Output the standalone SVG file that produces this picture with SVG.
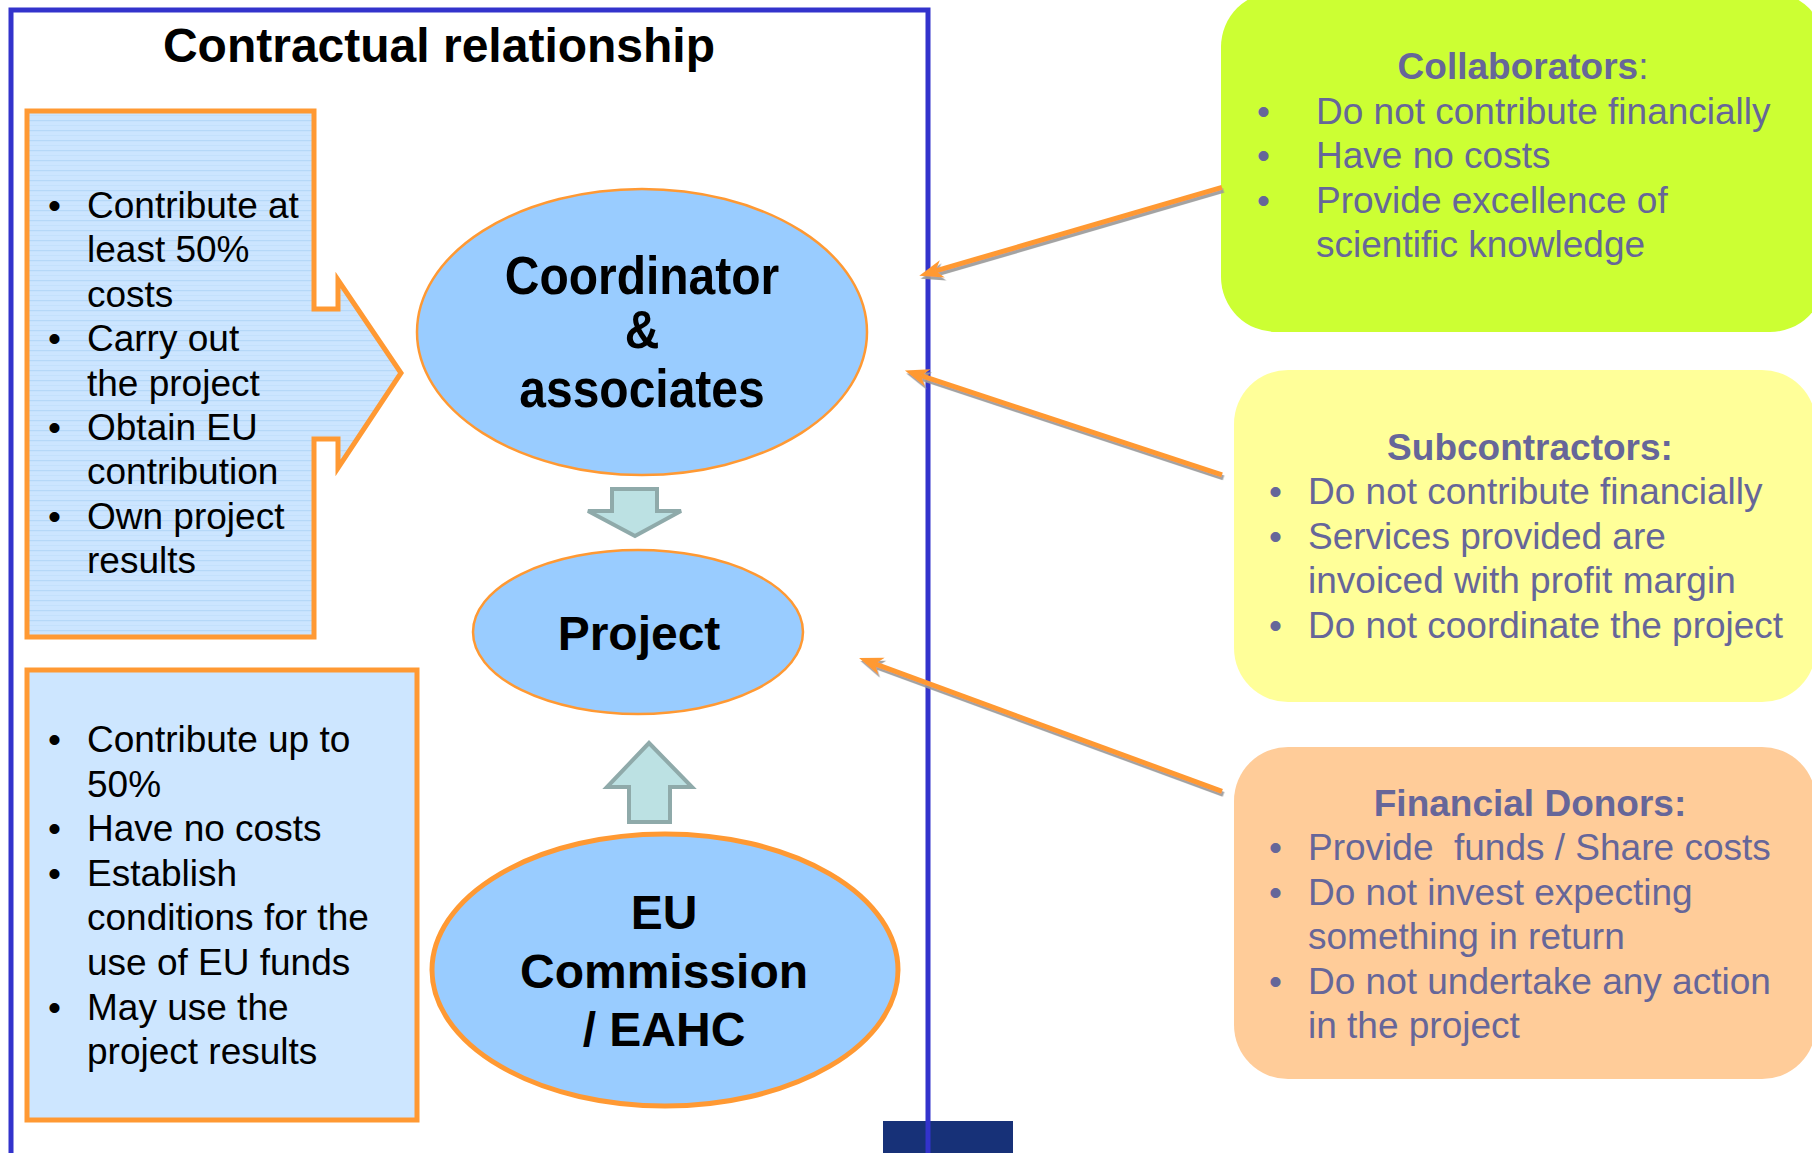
<svg xmlns="http://www.w3.org/2000/svg" width="1812" height="1153" viewBox="0 0 1812 1153">
  <style>
    text { font-family: "Liberation Sans", Arial, "Noto Sans", sans-serif; }
    .title { font-size: 48px; font-weight: bold; fill: #000; text-anchor: middle; }
    .lb { font-size: 37px; fill: #000; }
    .node { font-size: 48px; font-weight: bold; fill: #000; text-anchor: middle; }
    .rt { font-size: 37px; fill: #666699; }
    .rh { font-size: 37px; font-weight: bold; fill: #666699; text-anchor: middle; }
    .ell { fill: #99CCFF; stroke: #FF9933; }
    .box { stroke: #FF9933; stroke-width: 5; stroke-linejoin: miter; }
    .flow { fill: #BCE1E3; stroke: #8FAAAA; stroke-width: 4; }
    .conn { fill: none; stroke: #FF9933; stroke-width: 5; }
  </style>
  <defs>
    <pattern id="stripes" width="10" height="10" patternUnits="userSpaceOnUse">
      <rect width="10" height="10" fill="#CCE5FF"/>
      <rect y="0" width="10" height="1.2" fill="#B6D8F8"/>
      <rect y="5" width="10" height="1" fill="#C3E0FC"/>
    </pattern>
    <marker id="head" viewBox="-24 -10 26 20" refX="-17" refY="0" markerWidth="26" markerHeight="20" markerUnits="userSpaceOnUse" orient="auto">
      <path d="M0,0 L-24,-9 L-17,0 L-24,9 Z" fill="#FF9933"/>
    </marker>
    <filter id="shadow" x="-10%" y="-10%" width="120%" height="130%">
      <feDropShadow dx="1.5" dy="3" stdDeviation="0.6" flood-color="#999999" flood-opacity="0.9"/>
    </filter>
  </defs>

  <rect width="1812" height="1153" fill="#FFFFFF"/>

  <!-- footer tab -->
  <rect x="883" y="1121" width="130" height="40" fill="#173178"/>

  <!-- contract frame -->
  <path d="M11,1160 V10 H928 V1160" fill="none" stroke="#3333CC" stroke-width="5"/>
  <text class="title" x="439" y="62">Contractual relationship</text>

  <!-- partner duties -->
  <g id="partners-box">
    <path class="box" fill="url(#stripes)" d="M27,111 H314 V309 H338 V280 L401,373 L338,468 V439 H314 V637 H27 Z"/>
    <g class="lb">
      <text x="48" y="218">•</text><text x="87" y="218">Contribute at</text>
      <text x="87" y="262.4">least 50%</text>
      <text x="87" y="306.8">costs</text>
      <text x="48" y="351.2">•</text><text x="87" y="351.2">Carry out</text>
      <text x="87" y="395.6">the project</text>
      <text x="48" y="440">•</text><text x="87" y="440">Obtain EU</text>
      <text x="87" y="484.4">contribution</text>
      <text x="48" y="528.8">•</text><text x="87" y="528.8">Own project</text>
      <text x="87" y="573.2">results</text>
    </g>
  </g>

  <!-- commission duties -->
  <g id="commission-box">
    <rect class="box" x="27" y="670" width="390" height="450" fill="#CDE6FF"/>
    <g class="lb">
      <text x="48" y="752">•</text><text x="87" y="752">Contribute up to</text>
      <text x="87" y="796.6">50%</text>
      <text x="48" y="841.2">•</text><text x="87" y="841.2">Have no costs</text>
      <text x="48" y="885.8">•</text><text x="87" y="885.8">Establish</text>
      <text x="87" y="930.4">conditions for the</text>
      <text x="87" y="975">use of EU funds</text>
      <text x="48" y="1019.6">•</text><text x="87" y="1019.6">May use the</text>
      <text x="87" y="1064.2">project results</text>
    </g>
  </g>

  <g id="coordinator">
    <ellipse class="ell" cx="642" cy="332" rx="225" ry="143" stroke-width="2.5"/>
    <text class="node" transform="translate(642,294) scale(1,1.1)">Coordinator</text>
    <text class="node" transform="translate(642,348) scale(1,1.1)">&amp;</text>
    <text class="node" transform="translate(642,407) scale(1,1.1)">associates</text>
  </g>

  <g id="project">
    <ellipse class="ell" cx="638" cy="632" rx="165" ry="82" stroke-width="2.5"/>
    <text class="node" x="639" y="650">Project</text>
  </g>

  <g id="commission">
    <ellipse class="ell" cx="665" cy="970" rx="233" ry="136" stroke-width="5"/>
    <text class="node" x="664" y="929">EU</text>
    <text class="node" x="664" y="988">Commission</text>
    <text class="node" x="664" y="1046">/ EAHC</text>
  </g>

  <g id="flow-arrows">
    <polygon class="flow" points="612,489 657,489 657,511 681,511 635,536 588,511 612,511"/>
    <polygon class="flow" points="649,743 692,787 670,787 670,822 629,822 629,787 607,787"/>
  </g>

  <g id="collaborators">
    <rect x="1221" y="-8" width="604" height="340" rx="55" fill="#CCFF33"/>
    <text class="rh" x="1523" y="79">Collaborators<tspan font-weight="normal">:</tspan></text>
    <g class="rt">
      <text x="1257" y="123.5">•</text><text x="1316" y="123.5">Do not contribute financially</text>
      <text x="1257" y="168">•</text><text x="1316" y="168">Have no costs</text>
      <text x="1257" y="212.5">•</text><text x="1316" y="212.5">Provide excellence of</text>
      <text x="1316" y="257">scientific knowledge</text>
    </g>
  </g>

  <g id="subcontractors">
    <rect x="1234" y="370" width="582" height="332" rx="54" fill="#FFFF99"/>
    <text class="rh" x="1530" y="459.5">Subcontractors:</text>
    <g class="rt">
      <text x="1269" y="504">•</text><text x="1308" y="504">Do not contribute financially</text>
      <text x="1269" y="548.5">•</text><text x="1308" y="548.5">Services provided are</text>
      <text x="1308" y="593">invoiced with profit margin</text>
      <text x="1269" y="637.5">•</text><text x="1308" y="637.5">Do not coordinate the project</text>
    </g>
  </g>

  <g id="financial-donors">
    <rect x="1234" y="747" width="582" height="332" rx="54" fill="#FFCC99"/>
    <text class="rh" x="1530" y="815.5">Financial Donors:</text>
    <g class="rt">
      <text x="1269" y="860">•</text><text x="1308" y="860" xml:space="preserve">Provide  funds / Share costs</text>
      <text x="1269" y="904.5">•</text><text x="1308" y="904.5">Do not invest expecting</text>
      <text x="1308" y="949">something in return</text>
      <text x="1269" y="993.5">•</text><text x="1308" y="993.5">Do not undertake any action</text>
      <text x="1308" y="1038">in the project</text>
    </g>
  </g>

  <!-- connectors: outside parties point into the contract -->
  <g id="connectors" filter="url(#shadow)">
    <path class="conn" d="M1222,187.4 L935.6,270.9" marker-end="url(#head)"/>
    <path class="conn" d="M1222,474.8 L921.1,375.7" marker-end="url(#head)"/>
    <path class="conn" d="M1222,791.3 L875,663.9" marker-end="url(#head)"/>
  </g>
</svg>
